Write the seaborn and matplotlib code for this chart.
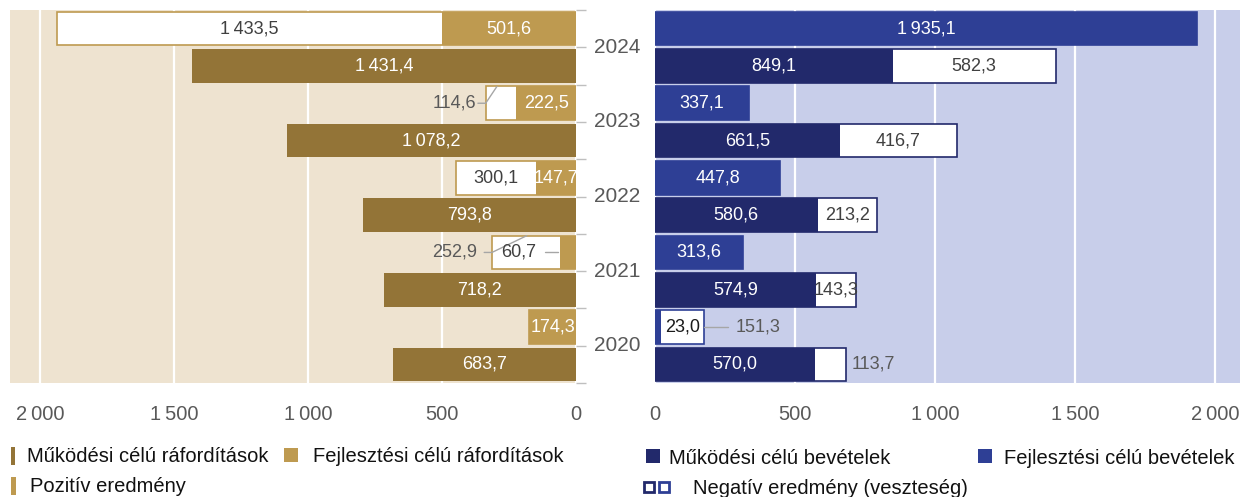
import numpy as np
import pandas as pd
import seaborn as sns
import matplotlib.pyplot as plt
import matplotlib.transforms as mtrans
from matplotlib.patches import Rectangle

# data (billion HUF), top row of each year = fejlesztési, bottom = működési
years = ["2024", "2023", "2022", "2021", "2020"]
dev_exp = [501.6, 222.5, 147.7, 60.7, 174.3]
op_exp = [1431.4, 1078.2, 793.8, 718.2, 683.7]
dev_rev = [1935.1, 337.1, 447.8, 313.6, 23.0]
op_rev = [849.1, 661.5, 580.6, 574.9, 570.0]
dev_pos = [1433.5, 114.6, 300.1, 252.9, 0.0]
dev_neg = [0.0, 0.0, 0.0, 0.0, 151.3]
op_pos = [0.0, 0.0, 0.0, 0.0, 0.0]
op_neg = [582.3, 416.7, 213.2, 143.3, 113.7]

TS = "\u2009"
xticks_l = [f"2{TS}000", f"1{TS}500", f"1{TS}000", "500", "0"]
xticks_r = ["0", "500", f"1{TS}000", f"1{TS}500", f"2{TS}000"]

gold_dark = "#937437"
gold_light = "#BE9A50"
bg_left = "#EEE3D0"
navy = "#22296B"
blue = "#2E3F95"
bg_right = "#C8CEEA"
grey_txt = "#595959"
box_txt = "#404040"

sns.set_style("white")
plt.rcParams["font.family"] = ["Liberation Sans", "DejaVu Sans"]

recs = []
for i, y in enumerate(years):
    recs.append(dict(row=f"{y} F", kind="F", exp=dev_exp[i], rev=dev_rev[i],
                     pos=dev_pos[i], neg=dev_neg[i]))
    recs.append(dict(row=f"{y} M", kind="M", exp=op_exp[i], rev=op_rev[i],
                     pos=op_pos[i], neg=op_neg[i]))
df = pd.DataFrame(recs)
df["left_total"] = df["exp"] + df["pos"]
df["right_total"] = df["rev"] + df["neg"]
rows = list(df["row"])

W, H = 1240, 497
fig = plt.figure(figsize=(W / 100, H / 100), dpi=100)
ax_l = fig.add_axes([10 / W, 1 - 383 / H, 566 / W, 373 / H])
ax_r = fig.add_axes([655 / W, 1 - 383 / H, 585 / W, 373 / H])


def fmt(v):
    return f"{v:,.1f}".replace(",", TS).replace(".", ",")


common = dict(order=rows, width=0.9, errorbar=None, saturation=1)

# left: expenditures, white boxes = positive result
sns.barplot(data=df[df.kind == "F"], y="row", x="left_total", color="white",
            edgecolor=gold_light, linewidth=1.2, ax=ax_l, **common)
sns.barplot(data=df, y="row", x="exp", hue="kind", hue_order=["F", "M"],
            palette={"F": gold_light, "M": gold_dark}, dodge=False,
            legend=False, linewidth=0, ax=ax_l, **common)

# right: revenues, white boxes = negative result
sns.barplot(data=df[df.kind == "F"], y="row", x="right_total", color="white",
            edgecolor=blue, linewidth=1.2, ax=ax_r, **common)
sns.barplot(data=df[df.kind == "M"], y="row", x="right_total", color="white",
            edgecolor=navy, linewidth=1.2, ax=ax_r, **common)
sns.barplot(data=df, y="row", x="rev", hue="kind", hue_order=["F", "M"],
            palette={"F": blue, "M": navy}, dodge=False,
            legend=False, linewidth=0, ax=ax_r, **common)

for ax, bg in [(ax_l, bg_left), (ax_r, bg_right)]:
    ax.set_facecolor(bg)
    ax.set_ylim(9.5, -0.5)
    ax.set_xlabel("")
    ax.set_ylabel("")
    for s in ax.spines.values():
        s.set_visible(False)
    ax.set_axisbelow(True)
    ax.xaxis.grid(True, color="white", lw=1.6)
    ax.set_yticks(np.arange(-0.5, 10, 1))
    ax.set_yticklabels([])
    ax.tick_params(axis="y", length=7, width=1, color="#BFBFBF")
    ax.tick_params(axis="x", length=0, pad=16, labelsize=14.5, labelcolor=grey_txt)

ax_l.set_xlim(2112, 0)
ax_l.set_xticks([2000, 1500, 1000, 500, 0])
ax_l.set_xticklabels(xticks_l)
ax_l.yaxis.tick_right()
ax_r.set_xlim(0, 2090)
ax_r.set_xticks([0, 500, 1000, 1500, 2000])
ax_r.set_xticklabels(xticks_r)

lab = dict(ha="center", va="center", fontsize=13)
lead = dict(color="#A6A6A6", lw=1)

for j, r in df.iterrows():
    y = j
    # left side
    if r.row != "2021 F":
        ax_l.text(r.exp / 2, y, fmt(r.exp), color="white", **lab)
    if r.pos > 0:
        if r.pos > 200 and r.row != "2021 F":
            ax_l.text(r.exp + r.pos / 2, y, fmt(r.pos), color=box_txt, **lab)
        else:
            ax_l.text(452, y, fmt(r.pos), color=grey_txt, **lab)
            end = r.exp + r.pos
            ax_l.plot([end + 29, end, end - 42 if r.pos < 200 else end - 130],
                      [y, y, y - 0.45], **lead)
    # right side
    if r.rev > 100:
        ax_r.text(r.rev / 2, y, fmt(r.rev), color="white", **lab)
    else:
        ax_r.text(r.rev + r.neg / 2, y, fmt(r.rev), color="#1a1a1a", **lab)
    if r.neg > 0:
        if r.rev < 100:
            ax_r.text(368, y, fmt(r.neg), color=grey_txt, **lab)
            ax_r.plot([r.right_total, r.right_total + 87], [y, y], **lead)
        elif r.neg < 130:
            ax_r.text(r.right_total + 98, y, fmt(r.neg), color=grey_txt, **lab)
        else:
            ax_r.text(r.rev + r.neg / 2, y, fmt(r.neg), color=box_txt, **lab)

# 2021 development expenditure label sits in the white box with a leader
i21 = rows.index("2021 F")
ax_l.text(213, i21, fmt(dev_exp[3]), color=box_txt, **lab)
ax_l.plot([116, 67], [i21, i21], **lead)

# year labels between the panels
trans = mtrans.blended_transform_factory(fig.transFigure, ax_r.transData)
for i, y in enumerate(years):
    ax_r.text(617 / W, 2 * i + 0.5, y, transform=trans, ha="center",
              va="center", fontsize=15, color=grey_txt)


# legends
def fx(x):
    return x / W


def fy(y):
    return 1 - y / H


def box(x0, y0, x1, y1, fc, ec=None, lw=0):
    fig.add_artist(Rectangle((fx(x0), fy(y1)), fx(x1) - fx(x0), fy(y0) - fy(y1),
                             transform=fig.transFigure, facecolor=fc,
                             edgecolor=ec if ec else fc, linewidth=lw))


leg = dict(va="center", ha="left", fontsize=14.5, color="#111111")
box(11, 447, 15, 465, gold_dark)
fig.text(fx(27), fy(457), "Működési célú ráfordítások", **leg)
box(284, 448, 298, 462, gold_light)
fig.text(fx(313), fy(457), "Fejlesztési célú ráfordítások", **leg)
box(11, 477, 16, 495, gold_light)
fig.text(fx(30), fy(487), "Pozitív eredmény", **leg)

box(646, 449, 660, 463, navy)
fig.text(fx(669), fy(458), "Működési célú bevételek", **leg)
box(978, 449, 992, 463, blue)
fig.text(fx(1004), fy(458), "Fejlesztési célú bevételek", **leg)
box(644, 482, 654, 492, "white", navy, 2)
box(659, 482, 669, 492, "white", blue, 2)
fig.text(fx(693), fy(488), "Negatív eredmény (veszteség)", **leg)

fig.savefig("out.png", dpi=100)
